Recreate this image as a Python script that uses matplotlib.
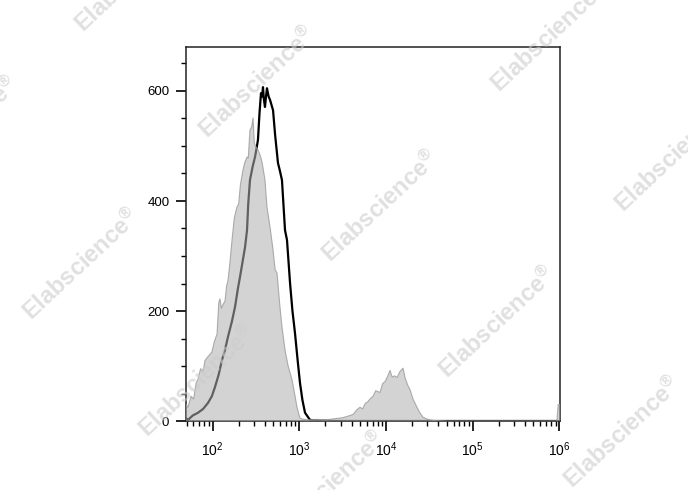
import matplotlib
matplotlib.use('Agg')
import matplotlib.pyplot as plt
from matplotlib.ticker import LogLocator, MultipleLocator, FixedLocator, NullFormatter
import numpy as np

plt.rcParams['font.family'] = ['Liberation Sans', 'DejaVu Sans']
plt.rcParams['mathtext.default'] = 'regular'

# control (isotype) histogram, filled gray: log10 intensity, count
ctrl_log = [1.692, 1.715, 1.75, 1.78, 1.81, 1.83, 1.86, 1.89, 1.911, 1.95, 1.99,
            2.02, 2.05, 2.07, 2.084, 2.10, 2.12, 2.142, 2.16, 2.176, 2.20, 2.223,
            2.25, 2.28, 2.30, 2.32, 2.349, 2.37, 2.396, 2.41, 2.43, 2.45, 2.465,
            2.48, 2.50, 2.522, 2.55, 2.57, 2.603, 2.626, 2.661, 2.696, 2.72,
            2.742, 2.776, 2.80, 2.834, 2.87, 2.915, 2.95, 2.972, 3.007, 3.05,
            3.1, 3.2, 3.3, 3.4, 3.5, 3.584, 3.62, 3.66, 3.699, 3.73, 3.76, 3.79,
            3.814, 3.85, 3.88, 3.93, 3.96, 3.99, 4.02, 4.045, 4.07, 4.10, 4.126,
            4.16, 4.195, 4.22, 4.25, 4.276, 4.31, 4.356, 4.39, 4.425, 4.48, 4.54,
            4.7, 5.5, 5.97, 5.985, 6.01]
ctrl_count = [30, 25, 45, 40, 70, 75, 95, 90, 110, 118, 125,
              145, 158, 215, 222, 205, 212, 218, 245, 255, 290, 329,
              370, 389, 395, 430, 456, 470, 480, 478, 529, 535, 551,
              505, 498, 493, 482, 470, 438, 389, 353, 311, 275,
              269, 207, 170, 129, 100, 75, 45, 25, 5, 3,
              2, 3, 2, 4, 6, 10, 12, 20, 25, 22, 32, 35,
              40, 45, 55, 52, 68, 72, 82, 92, 80, 82, 79,
              90, 96, 78, 65, 57, 40, 25, 15, 7, 3, 1,
              0, 0, 0, 30, 30]

# stained sample histogram, black line
samp_log = [1.692, 1.715, 1.77, 1.83, 1.89, 1.946, 1.99, 2.027, 2.07, 2.107,
            2.14, 2.176, 2.22, 2.257, 2.29, 2.315, 2.345, 2.373, 2.396, 2.41,
            2.43, 2.46, 2.488, 2.505, 2.522, 2.54, 2.557, 2.57, 2.58, 2.59,
            2.603, 2.615, 2.626, 2.645, 2.661, 2.696, 2.72, 2.753, 2.775, 2.799,
            2.834, 2.857, 2.892, 2.92, 2.949, 2.98, 3.007, 3.035, 3.065, 3.122,
            3.2, 3.4, 6.01]
samp_count = [5, 2, 10, 15, 22, 33, 45, 62, 85, 111,
              128, 153, 180, 207, 240, 262, 290, 316, 347, 395,
              438, 462, 480, 495, 511, 560, 596, 590, 607, 585,
              571, 590, 605, 590, 584, 565, 520, 469, 455, 438,
              347, 329, 251, 200, 160, 110, 69, 38, 15, 2,
              1, 0, 0]

# watermark centres in figure pixels
wm_x = [133, 257, 549, -40, 380, 673, 81, 497, 197, 622, 327]
wm_y = [-23, 83, 37, 133, 207, 157, 265, 323, 382, 433, 488]

W, H = 688, 490
fig = plt.figure(figsize=(W / 100, H / 100), dpi=100)
ax = fig.add_axes([186 / W, 69 / H, 374 / W, 374 / H])

ctrl_x = 10 ** np.array(ctrl_log)
samp_x = 10 ** np.array(samp_log)

ax.plot(samp_x, samp_count, color='black', lw=1.6, zorder=2)
ax.fill_between(ctrl_x, 0, ctrl_count, facecolor='#b0b0b0', alpha=0.55,
                edgecolor='none', zorder=3)
ax.plot(ctrl_x, ctrl_count, color='#9a9a9a', lw=0.8, alpha=0.8, zorder=3)

ax.set_xscale('log')
ax.set_xlim(10 ** 1.692, 10 ** 6.006)
ax.set_ylim(0, 680)

ax.xaxis.set_major_locator(FixedLocator([1e2, 1e3, 1e4, 1e5, 1e6]))
ax.set_xticklabels(['$10^{%d}$' % k for k in range(2, 7)])
ax.xaxis.set_minor_locator(LogLocator(base=10, subs=np.arange(2, 10), numticks=20))
ax.xaxis.set_minor_formatter(NullFormatter())
ax.yaxis.set_major_locator(FixedLocator([0, 200, 400, 600]))
ax.yaxis.set_minor_locator(MultipleLocator(50))

ax.tick_params(which='major', direction='out', length=7, width=1.2,
               labelsize=9.5, pad=5, colors='black')
ax.tick_params(axis='x', which='major', labelsize=10, pad=7)
ax.tick_params(which='minor', direction='out', length=3.5, width=1.0)
for s in ax.spines.values():
    s.set_linewidth(1.1)
    s.set_color('#222222')

for x, y in zip(wm_x, wm_y):
    fig.text(x / W, 1 - y / H, 'Elabscience$^{\u00ae}$', fontsize=17, fontweight='bold',
             color='#cccccc', alpha=0.6, rotation=43, ha='center', va='center',
             rotation_mode='anchor', zorder=10)

fig.savefig('out.png', dpi=100)
